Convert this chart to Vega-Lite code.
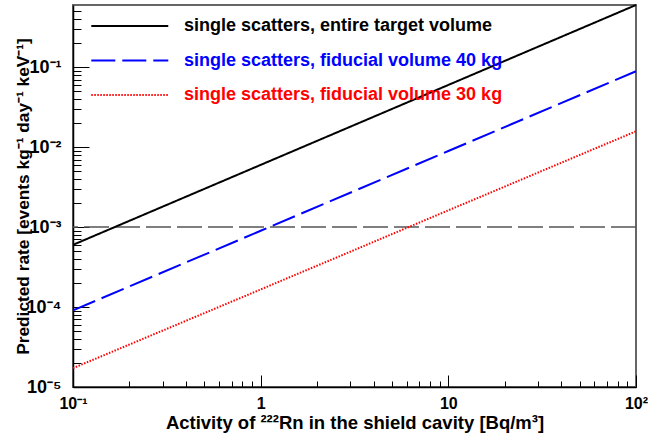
{
  "$schema": "https://vega.github.io/schema/vega-lite/v6.json",
  "width": 563,
  "height": 382,
  "autosize": {"type": "none"},
  "padding": {"left": 73, "top": 5, "right": 12, "bottom": 49},
  "config": {
    "font": "Liberation Sans",
    "view": {"stroke": "#666666", "strokeWidth": 2},
    "axis": {"grid": false, "domainColor": "#000000", "domainWidth": 1.5, "tickColor": "#000000", "labelFont": "Liberation Sans", "titleFont": "Liberation Sans", "labelFontWeight": "bold", "titleFontWeight": "bold", "labelColor": "#000000", "titleColor": "#000000"}
  },
  "datasets": {
    "lines": [
      {"activity": 0.1, "rate": 0.0006, "series": "single scatters, entire target volume"},
      {"activity": 1, "rate": 0.006, "series": "single scatters, entire target volume"},
      {"activity": 10, "rate": 0.06, "series": "single scatters, entire target volume"},
      {"activity": 100, "rate": 0.6, "series": "single scatters, entire target volume"},
      {"activity": 0.1, "rate": 0.000091, "series": "single scatters, fiducial volume 40 kg"},
      {"activity": 1, "rate": 0.0009, "series": "single scatters, fiducial volume 40 kg"},
      {"activity": 10, "rate": 0.00895, "series": "single scatters, fiducial volume 40 kg"},
      {"activity": 100, "rate": 0.089, "series": "single scatters, fiducial volume 40 kg"},
      {"activity": 0.1, "rate": 0.0000172, "series": "single scatters, fiducial volume 30 kg"},
      {"activity": 1, "rate": 0.000166, "series": "single scatters, fiducial volume 30 kg"},
      {"activity": 10, "rate": 0.00162, "series": "single scatters, fiducial volume 30 kg"},
      {"activity": 100, "rate": 0.0158, "series": "single scatters, fiducial volume 30 kg"}
    ],
    "limit": [{"rate": 0.001}]
  },
  "layer": [
    {
      "data": {"name": "limit"},
      "mark": {"type": "rule", "color": "#555555", "strokeWidth": 1.5, "strokeDash": [25, 6]},
      "encoding": {
        "y": {"field": "rate", "type": "quantitative", "scale": {"type": "log", "domain": [0.00001, 0.6], "nice": false}, "axis": null}
      }
    },
    {
      "data": {"name": "lines"},
      "mark": {"type": "point", "opacity": 0},
      "encoding": {
        "x": {"field": "activity", "type": "quantitative", "scale": {"type": "log", "domain": [0.1, 100], "nice": false},
          "axis": {"orient": "bottom", "values": [0.2,0.3,0.4,0.5,0.6,0.7,0.8,0.9,2,3,4,5,6,7,8,9,20,30,40,50,60,70,80,90], "labels": false, "domain": false, "tickSize": -6, "tickWidth": 1, "title": null}},
        "y": {"field": "rate", "type": "quantitative", "scale": {"type": "log", "domain": [0.00001, 0.6], "nice": false},
          "axis": {"orient": "left", "values": [0.00002,0.00003,0.00004,0.00005,0.00006,0.00007,0.00008,0.00009,0.0002,0.0003,0.0004,0.0005,0.0006,0.0007,0.0008,0.0009,0.002,0.003,0.004,0.005,0.006,0.007,0.008,0.009,0.02,0.03,0.04,0.05,0.06,0.07,0.08,0.09,0.2,0.3,0.4,0.5], "labels": false, "domain": false, "tickSize": -8, "tickWidth": 1, "title": null}}
      }
    },
    {
      "data": {"name": "lines"},
      "mark": {"type": "line", "strokeWidth": 2},
      "encoding": {
        "x": {"field": "activity", "type": "quantitative", "scale": {"type": "log", "domain": [0.1, 100], "nice": false},
          "axis": {"orient": "bottom", "values": [0.1, 1, 10, 100], "labelExpr": "datum.value < 0.5 ? '10⁻¹' : datum.value < 5 ? '1' : datum.value < 50 ? '10' : '10²'", "tickSize": -12, "tickWidth": 1, "labelPadding": 20, "labelFontSize": 16, "labelFlush": false, "title": "Activity of ²²²Rn in the shield cavity [Bq/m³]", "titleFontSize": 18.5, "titlePadding": 2}},
        "y": {"field": "rate", "type": "quantitative", "scale": {"type": "log", "domain": [0.00001, 0.6], "nice": false},
          "axis": {"orient": "left", "values": [0.00001, 0.0001, 0.001, 0.01, 0.1], "labelExpr": "datum.value < 0.00005 ? '10⁻⁵' : datum.value < 0.0005 ? '10⁻⁴' : datum.value < 0.005 ? '10⁻³' : datum.value < 0.05 ? '10⁻²' : '10⁻¹'", "tickSize": -16, "tickWidth": 1, "labelPadding": 28, "labelFontSize": 18, "labelFlush": false, "title": "Predicted rate [events kg⁻¹ day⁻¹ keV⁻¹]", "titleFontSize": 17.3, "titlePadding": -6}},
        "color": {"field": "series", "type": "nominal",
          "scale": {"domain": ["single scatters, entire target volume", "single scatters, fiducial volume 40 kg", "single scatters, fiducial volume 30 kg"], "range": ["#000000", "#0000ff", "#ff0000"]},
          "legend": {"orient": "none", "legendX": 17, "legendY": 12, "title": null, "padding": 0, "symbolType": "M -1 0 H 9", "symbolSize": 237, "symbolStrokeWidth": 2, "labelFont": "Liberation Sans", "labelFontWeight": "bold", "labelFontSize": 18, "labelOffset": 76, "labelLimit": 0, "rowPadding": 16.5, "labelColor": {"expr": "indexof(datum.label, 'entire') >= 0 ? '#000000' : indexof(datum.label, '40') >= 0 ? '#0000ff' : '#ff0000'"}}},
        "strokeDash": {"field": "series", "type": "nominal",
          "scale": {"domain": ["single scatters, entire target volume", "single scatters, fiducial volume 40 kg", "single scatters, fiducial volume 30 kg"], "range": [[1, 0], [24, 7], [1.5, 1.5]]},
          "legend": {"orient": "none", "legendX": 17, "legendY": 12, "title": null, "padding": 0, "symbolType": "M -1 0 H 9", "symbolSize": 237, "symbolStrokeWidth": 2, "labelFont": "Liberation Sans", "labelFontWeight": "bold", "labelFontSize": 18, "labelOffset": 76, "labelLimit": 0, "rowPadding": 16.5, "labelColor": {"expr": "indexof(datum.label, 'entire') >= 0 ? '#000000' : indexof(datum.label, '40') >= 0 ? '#0000ff' : '#ff0000'"}}}
      }
    }
  ],
  "resolve": {"axis": {"x": "independent", "y": "independent"}}
}
